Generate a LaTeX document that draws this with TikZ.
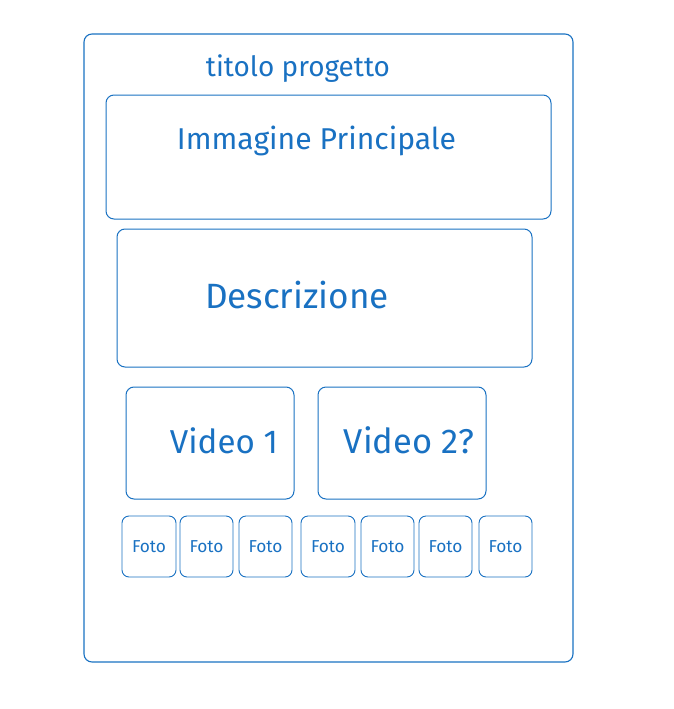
\documentclass[tikz,border=0pt]{standalone}
\usepackage{fontspec}
\setmainfont{Fira Sans}
\definecolor{inkblue}{HTML}{1971C2}
\tikzset{
  frame/.style={draw=inkblue, line width=1.1pt, rounded corners=8pt},
  panel/.style={draw=inkblue, line width=1pt, rounded corners=8pt},
  label/.style={text=inkblue, inner sep=0pt, anchor=center},
}
\newcommand{\fitw}[2]{\resizebox{#1pt}{!}{#2}}
\begin{document}
\begin{tikzpicture}[x=1pt, y=-1pt]
  \useasboundingbox (0,0) rectangle (674,709);
  % page frame
  \draw[frame] (84,34) rectangle (573,662);
  \coordinate (page) at (84,34);
  \node[label] (title) at (298,69) {\fitw{184}{titolo progetto}};
  % main image and description panels
  \draw[panel] (106,95) rectangle (551,219);
  \node[label] (img) at (316.5,141) {\fitw{279}{Immagine Principale}};
  \draw[panel] (117,229) rectangle (532,367);
  \node[label] (desc) at (297,295) {\fitw{184}{Descrizione}};
  % video panels
  \draw[panel] (126,387) rectangle (294,499);
  \node[label] (v1) at (224,441) {\fitw{108}{Video 1}};
  \draw[panel] (318,387) rectangle (486,499);
  \node[label] (v2) at (409,440) {\fitw{130}{Video 2?}};
  % photo thumbnails
  \foreach \xa/\xb [count=\i] in {122/176, 180/233, 239/292, 301/355, 361/414, 419/472, 479/532} {
    \draw[panel, line width=0.9pt, rounded corners=7pt] (\xa,516) rectangle (\xb,577);
    \node[label] (foto\i) at ({(\xa+\xb)/2},546.5) {\fitw{34}{Foto}};
  }
\end{tikzpicture}
\end{document}
